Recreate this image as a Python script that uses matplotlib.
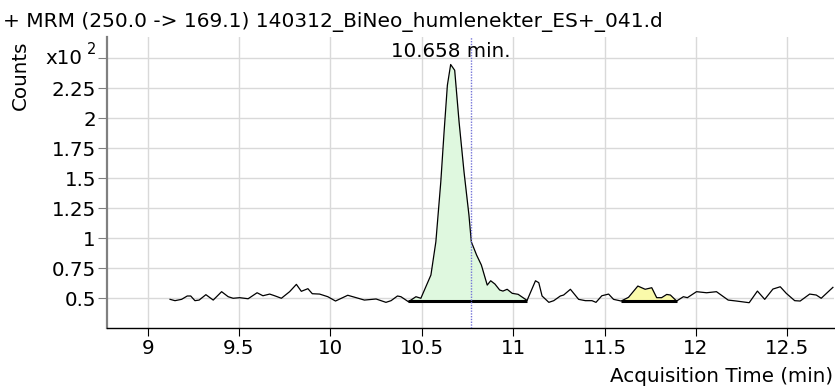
import numpy as np
import matplotlib
matplotlib.use("Agg")
import matplotlib.pyplot as plt

# MRM trace (250.0 -> 169.1): acquisition time (min) and counts
times = [
    9.123, 9.150, 9.186, 9.217, 9.236, 9.259, 9.282, 9.319, 9.359, 9.405,
    9.441, 9.468, 9.504, 9.550, 9.599, 9.631, 9.668, 9.695, 9.732, 9.777,
    9.814, 9.841, 9.877, 9.901, 9.941, 9.986, 10.028, 10.095, 10.141, 10.186,
    10.250, 10.304, 10.332, 10.367, 10.386, 10.427, 10.468, 10.495, 10.550, 10.577,
    10.604, 10.622, 10.640, 10.658, 10.680, 10.704, 10.731, 10.758, 10.771, 10.800,
    10.826, 10.858, 10.877, 10.900, 10.926, 10.944, 10.967, 10.995, 11.027, 11.076,
    11.122, 11.140, 11.158, 11.195, 11.222, 11.258, 11.276, 11.313, 11.358, 11.395,
    11.431, 11.453, 11.485, 11.522, 11.549, 11.591, 11.631, 11.682, 11.722, 11.758,
    11.785, 11.812, 11.840, 11.860, 11.894, 11.931, 11.953, 12.003, 12.058, 12.112,
    12.176, 12.221, 12.291, 12.336, 12.376, 12.421, 12.461, 12.494, 12.540, 12.570,
    12.622, 12.658, 12.685, 12.749,
]
counts = [
    48.9, 47.8, 48.9, 51.7, 51.7, 47.8, 48.3, 52.8, 48.3, 55.3,
    51.1, 49.8, 50.3, 49.4, 54.4, 51.9, 53.3, 51.9, 49.8, 55.3,
    61.4, 55.6, 57.8, 53.6, 53.3, 51.1, 47.5, 52.3, 50.3, 48.3,
    49.2, 46.4, 47.8, 51.7, 51.1, 46.9, 51.1, 49.8, 69.2, 96.9,
    146.9, 188.6, 227.5, 244.8, 240.0, 196.9, 155.3, 119.2, 96.9, 85.8,
    77.5, 60.8, 64.4, 61.7, 56.7, 55.8, 57.3, 53.9, 53.1, 48.0,
    64.4, 62.8, 51.7, 46.4, 47.8, 51.7, 52.5, 57.3, 48.9, 47.8,
    47.8, 46.4, 51.9, 53.3, 48.9, 47.5, 50.6, 60.0, 57.3, 58.6,
    50.3, 50.3, 53.0, 52.5, 47.5, 51.1, 50.3, 55.3, 54.4, 55.3,
    48.3, 47.5, 46.1, 55.8, 48.9, 57.5, 59.4, 53.9, 47.8, 47.5,
    53.3, 52.5, 49.8, 58.9,
]

# integrated peaks: (start, end) and their baseline level in counts
peak_windows = [(10.427, 11.076), (11.591, 11.894)]
peak_colors = ["#dff8df", "#fafaaa"]
baseline_counts = 47.75
apex_time = 10.658
apex_label_counts = 251
marker_time = 10.771

title = "+ MRM (250.0 -> 169.1) 140312_BiNeo_humlenekter_ES+_041.d"
x_ticks = [9, 9.5, 10, 10.5, 11, 11.5, 12, 12.5]
y_ticks = [0.5, 0.75, 1, 1.25, 1.5, 1.75, 2, 2.25, 2.5]

plt.rcParams["font.family"] = ["DejaVu Sans"]
fs = 14.3

t = np.array(times)
y = np.array(counts) / 100.0
base = baseline_counts / 100.0

fig = plt.figure(figsize=(8.35, 3.88), dpi=100)
ax = fig.add_axes([107 / 835, 1 - 328 / 388, 727 / 835, (328 - 36.7) / 388])

# shaded peak areas above their baselines
for (t0, t1), col in zip(peak_windows, peak_colors):
    m = (t >= t0) & (t <= t1)
    ax.fill_between(t[m], np.maximum(y[m], base), base, color=col, lw=0, zorder=2)
    ax.plot([t0, t1], [base, base], color="black", lw=2.2, zorder=4, solid_capstyle="butt")

ax.plot(t, y, color="black", lw=0.9, zorder=3)
ax.axvline(marker_time, color="#7474d8", lw=1, ls=(0, (1, 1)), zorder=5)

ax.text(apex_time, apex_label_counts / 100.0, f"{apex_time:.3f} min.",
        ha="center", va="baseline", fontsize=fs, zorder=6)

ax.set_xlim(8.778, 12.755)
ax.set_ylim(0.25, 2.68)
ax.set_xticks(x_ticks)
ax.set_xticklabels([f"{v:g}" for v in x_ticks])
ax.set_yticks(y_ticks)
ax.set_yticklabels([f"{v:g}" for v in y_ticks[:-1]] + [""])

ax.grid(True, color="#d9d9d9", lw=1, zorder=0)
ax.set_axisbelow(True)
for side in ["top", "right"]:
    ax.spines[side].set_visible(False)
ax.spines["left"].set_color("#808080")
ax.spines["left"].set_linewidth(1.6)
ax.spines["bottom"].set_color("black")
ax.spines["bottom"].set_linewidth(1)
ax.tick_params(axis="x", length=6, width=0.8, color="black", pad=2, labelsize=fs)
ax.tick_params(axis="y", length=6.5, width=0.8, color="#808080", pad=1.5, labelsize=fs)

# header texts and axis labels
fig.text(0.004, 1 - 26.5 / 388, title, ha="left", va="baseline", fontsize=14.5)
fig.text(82 / 835, 1 - 59 / 388, "x10", ha="right", va="center", fontsize=fs)
fig.text(87 / 835, 1 - 50 / 388, "2", ha="left", va="center", fontsize=10.5)
fig.text(20 / 835, 1 - 75 / 388, "Counts", rotation=90, ha="center", va="center", fontsize=fs)
fig.text(833 / 835, 1 - 382 / 388, "Acquisition Time (min)", ha="right", va="baseline", fontsize=fs)

fig.savefig("out.png", dpi=100)
